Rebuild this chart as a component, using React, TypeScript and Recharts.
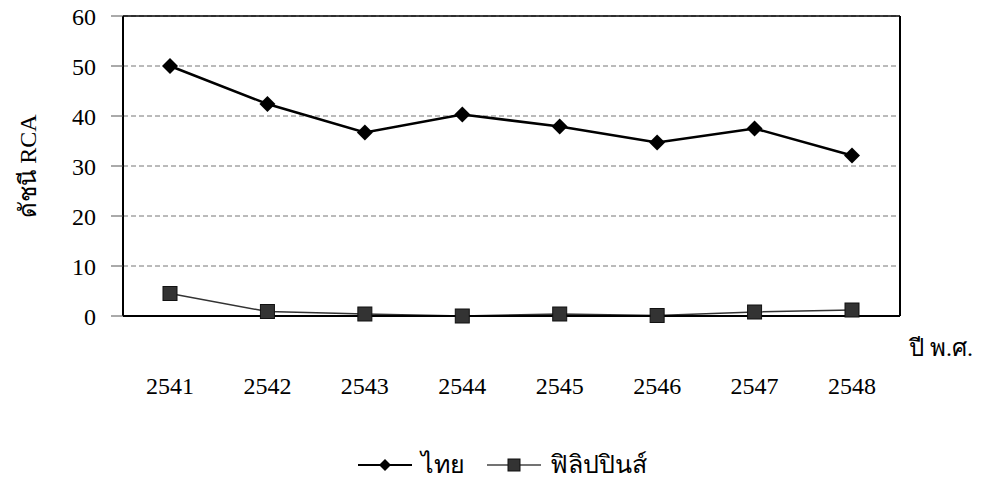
import { LineChart, Line, XAxis, YAxis, CartesianGrid, Legend } from "recharts";

const years = ["2541", "2542", "2543", "2544", "2545", "2546", "2547", "2548"];
const thailand = [50, 42.4, 36.7, 40.3, 37.9, 34.7, 37.5, 32.1];
const philippines = [4.5, 0.9, 0.4, 0, 0.4, 0.1, 0.8, 1.2];
const yTicks = [0, 10, 20, 30, 40, 50, 60];

const data = years.map((year, i) => ({
  year,
  thai: thailand[i],
  phil: philippines[i],
}));

const font = '"Liberation Serif", "Times New Roman", serif';

const Diamond = ({ cx, cy, size = 8, fill = "#000" }: any) => (
  <path d={`M${cx},${cy - size} L${cx + size},${cy} L${cx},${cy + size} L${cx - size},${cy} Z`} fill={fill} />
);

const Square = ({ cx, cy, size = 7, fill = "#333" }: any) => (
  <rect x={cx - size} y={cy - size} width={size * 2} height={size * 2} fill={fill} stroke="#111" strokeWidth={1} />
);

function LegendContent() {
  const item = (label: string, marker: React.ReactNode, lineColor: string, lineW: number, gap: number) => (
    <span style={{ display: "inline-flex", alignItems: "center", marginRight: gap }}>
      <svg width={54} height={20} style={{ marginRight: 9 }}>
        <line x1={0} y1={10} x2={54} y2={10} stroke={lineColor} strokeWidth={lineW} />
        {marker}
      </svg>
      <span>{label}</span>
    </span>
  );
  return (
    <div style={{ whiteSpace: "nowrap", fontFamily: font, fontSize: 25, color: "#000", lineHeight: "30px" }}>
      {item("ไทย", <Diamond cx={27} cy={10} size={6} />, "#000", 2, 22)}
      {item("ฟิลิปปินส์", <Square cx={27} cy={10} size={6} />, "#444", 1.5, 0)}
    </div>
  );
}

export default function App() {
  return (
    <div style={{ position: "absolute", left: 0, top: 0, background: "#fff" }}>
      <LineChart
        width={987}
        height={487}
        data={data}
        margin={{ top: 15, right: 86, left: 3, bottom: 6 }}
      >
        <CartesianGrid vertical={false} stroke="#777" strokeDasharray="5 3" />
        <XAxis
          dataKey="year"
          padding={{ left: 47, right: 48 }}
          axisLine={{ stroke: "#000", strokeWidth: 2 }}
          tickLine={false}
          tickSize={0}
          tickMargin={61}
          height={125}
          tick={{ fontSize: 24, fill: "#000", fontFamily: font }}
          label={{
            content: ({ viewBox }: any) => (
              <text
                x={viewBox.x + viewBox.width + 9}
                y={viewBox.y + 40}
                fontSize={24}
                fontFamily={font}
                fill="#000"
              >
                ปี พ.ศ.
              </text>
            ),
          }}
        />
        <XAxis
          xAxisId="top"
          dataKey="year"
          orientation="top"
          padding={{ left: 47, right: 48 }}
          height={1}
          tick={false}
          tickLine={false}
          axisLine={{ stroke: "#000", strokeWidth: 1.5 }}
        />
        <YAxis
          domain={[0, 60]}
          ticks={yTicks}
          interval={0}
          width={120}
          axisLine={{ stroke: "#000", strokeWidth: 2 }}
          tickLine={{ stroke: "#555" }}
          tickSize={12}
          tickMargin={15}
          tick={{ fontSize: 24, fill: "#000", fontFamily: font }}
          label={{
            value: "ดัชนี RCA",
            angle: -90,
            position: "insideLeft",
            offset: 24,
            style: { fontSize: 24, fontFamily: font, fill: "#000", textAnchor: "middle" },
          }}
        />
        <YAxis
          yAxisId="right"
          orientation="right"
          width={1}
          domain={[0, 60]}
          ticks={yTicks}
          tick={false}
          tickLine={false}
          axisLine={{ stroke: "#000", strokeWidth: 2 }}
        />
        <Legend
          verticalAlign="bottom"
          height={40}
          content={<LegendContent />}
          wrapperStyle={{ left: 358, top: 450, width: 320 }}
        />
        <Line
          xAxisId="top"
          dataKey="thai"
          name="ไทย"
          stroke="#000"
          strokeWidth={2.5}
          dot={(p: any) => <Diamond key={p.index} cx={p.cx} cy={p.cy} size={8} />}
          isAnimationActive={false}
        />
        <Line
          yAxisId="right"
          dataKey="phil"
          name="ฟิลิปปินส์"
          stroke="#333"
          strokeWidth={1.5}
          dot={(p: any) => <Square key={p.index} cx={p.cx} cy={p.cy} size={7} />}
          isAnimationActive={false}
        />
      </LineChart>
    </div>
  );
}
